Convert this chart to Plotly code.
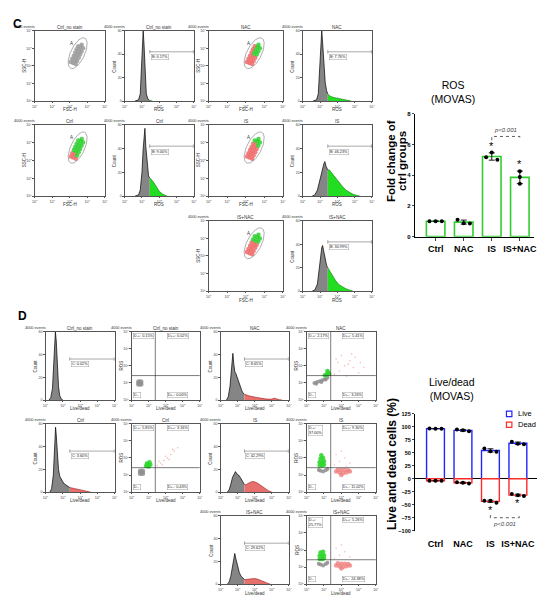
import numpy as np
import plotly.graph_objects as go

W, H = 550, 603
FONT = "Liberation Sans"

# ======================= DATA =======================
groups = ["Ctrl", "NAC", "IS", "IS+NAC"]

# ROS fold change of ctrl groups (replicates)
ros_ctrl = [1.01, 1.00, 1.01]
ros_nac = [1.10, 0.88, 0.86]
ros_is = [5.18, 5.48, 5.01]
ros_isnac = [4.26, 3.89, 3.44]

# Live / dead cells (%) (replicates; dead shown as negative)
live_ctrl = [96.6, 96.4, 96.5]
live_nac = [94.7, 93.3, 91.4]
live_is = [58.4, 53.2, 52.1]
live_isnac = [71.2, 67.4, 66.6]
dead_ctrl = [-3.8, -3.9, -4.0]
dead_nac = [-6.5, -7.8, -9.0]
dead_is = [-42.2, -42.2, -46.0]
dead_isnac = [-29.4, -31.9, -33.2]

p_text = "p<0.001"

# flow cytometry panels
flow_groups = ["Ctrl_no stain", "Ctrl", "NAC", "IS", "IS+NAC"]
ros_gate_pct = ["0.17%", "9.00%", "7.76%", "46.23%", "30.99%"]
ld_gate_pct = ["0.02%", "3.60%", "8.65%", "42.29%", "29.62%"]
quad_ul_pct = ["0.15%", "5.85%", "2.17%", "37.00%", "25.77%"]
quad_ur_pct = ["0.02%", "3.16%", "5.41%", "9.30%", "5.26%"]
quad_lr_pct = ["0.00%", "0.43%", "3.26%", "11.02%", "24.38%"]
log_tick_text = ["10<sup>0</sup>", "10<sup>1</sup>", "10<sup>2</sup>", "10<sup>3</sup>", "10<sup>4</sup>"]
count_ticks = [0, 20, 40, 60]
ros_gate_start = 1.45
ld_gate_start = 1.40
ros_gate_level = 42
ld_gate_level = 36
quad_x = 1.39
quad_y = 1.43

# ROS histograms (log10 intensity, count)
ros_hx_nostain = [0.6, 0.8, 0.9, 0.97, 1.03, 1.07, 1.12, 1.18, 1.25, 1.35, 1.45, 1.6]
ros_hy_nostain = [0, 1, 6, 30, 55, 60, 48, 20, 6, 1.5, 0.5, 0]
ros_hx_ctrl = [0.6, 0.8, 0.9, 1.0, 1.07, 1.12, 1.17, 1.22, 1.3, 1.38, 1.45, 1.55, 1.7, 1.85, 2.0, 2.2, 2.45]
ros_hy_ctrl = [0, 1, 5, 20, 40, 52, 57, 42, 25, 17, 15, 14, 11, 7, 4, 1.5, 0]
ros_hx_nac = [0.6, 0.8, 0.9, 0.98, 1.05, 1.1, 1.15, 1.22, 1.3, 1.38, 1.45, 1.6, 1.8, 2.0, 2.2, 2.4, 2.6, 2.8]
ros_hy_nac = [0, 1, 6, 25, 50, 60, 50, 30, 16, 9, 6, 4, 3, 2.5, 2, 1.2, 0.5, 0]
ros_hx_is = [0.55, 0.7, 0.85, 0.95, 1.05, 1.15, 1.22, 1.28, 1.35, 1.45, 1.55, 1.65, 1.8, 1.95, 2.1, 2.3, 2.5, 2.7, 2.9, 3.1, 3.3]
ros_hy_is = [0, 1, 5, 11, 18, 24, 27, 29, 25, 22, 22, 20, 17, 14, 11, 8, 5, 3, 1.5, 0.7, 0]
ros_hx_isnac = [0.55, 0.7, 0.85, 0.95, 1.03, 1.1, 1.15, 1.22, 1.3, 1.38, 1.45, 1.6, 1.75, 1.9, 2.1, 2.3, 2.5, 2.7, 2.9]
ros_hy_isnac = [0, 1, 6, 18, 30, 37, 39, 34, 27, 22, 20, 16, 12, 9, 5.5, 3.5, 2, 1, 0]

# Live/dead histograms
ld_hx_nostain = [0.2, 0.3, 0.4, 0.47, 0.53, 0.57, 0.62, 0.68, 0.75, 0.82, 0.9, 1.0]
ld_hy_nostain = [0, 2, 10, 35, 55, 60, 52, 30, 12, 4, 1, 0]
ld_hx_ctrl = [0.25, 0.35, 0.45, 0.52, 0.58, 0.62, 0.68, 0.75, 0.82, 0.9, 1.0, 1.1, 1.2, 1.3, 1.4, 1.55, 1.7, 1.85, 2.0, 2.2, 2.4, 2.6]
ld_hy_ctrl = [0, 3, 15, 40, 57, 50, 32, 20, 14, 11, 9, 7, 6, 5, 4, 3.5, 3, 2.5, 2, 1.2, 0.6, 0]
ld_hx_nac = [0.35, 0.45, 0.55, 0.63, 0.68, 0.72, 0.77, 0.83, 0.9, 0.97, 1.05, 1.15, 1.25, 1.32, 1.4, 1.55, 1.7, 1.85, 2.0, 2.2, 2.4, 2.6, 2.8, 3.0, 3.15, 3.3, 3.45, 3.6]
ld_hy_nac = [0, 3, 12, 30, 40, 41, 32, 25, 23, 20, 15, 11, 8, 6, 5, 4, 3.5, 3, 2.5, 2, 1.5, 1, 0.8, 0.8, 1.6, 0.8, 0.3, 0]
ld_hx_is = [0.4, 0.5, 0.6, 0.7, 0.8, 0.87, 0.95, 1.05, 1.15, 1.25, 1.32, 1.4, 1.5, 1.6, 1.7, 1.8, 1.9, 2.0, 2.1, 2.2, 2.35, 2.5, 2.65, 2.8, 3.0]
ld_hy_is = [0, 2, 7, 13, 16, 18, 16, 15, 13, 10, 8, 6.5, 6.5, 7.5, 8.5, 9, 9.3, 9, 8.5, 7.5, 6, 4, 2.5, 1.2, 0]
ld_hx_isnac = [0.4, 0.5, 0.6, 0.7, 0.77, 0.83, 0.9, 1.0, 1.1, 1.2, 1.3, 1.4, 1.55, 1.7, 1.85, 2.0, 2.15, 2.3, 2.5, 2.7, 2.9]
ld_hy_isnac = [0, 2, 7, 16, 24, 27, 22, 15, 10, 7, 5, 4, 4.2, 4.8, 5.2, 5, 4.5, 3.5, 2.2, 1, 0]

# FSC/SSC event cloud (log10) and per-event colour class per group
fsc_cloud = [2.20, 2.28, 2.37, 2.45, 2.53, 2.62, 2.68, 2.06, 2.14, 2.23, 2.31, 2.39, 2.48, 2.34, 2.42, 2.51, 2.59, 2.67, 2.76]
ssc_cloud = [2.16, 2.34, 2.52, 2.70, 2.88, 3.06, 3.20, 2.22, 2.40, 2.58, 2.76, 2.94, 3.12, 2.10, 2.28, 2.46, 2.64, 2.82, 3.00]
cloud_cls_nostain = "kkkkkkkkkkkkkkkkkkk"
cloud_cls_ctrl = "rrgggggrrggggrggggg"
cloud_cls_nac = "rrrggggrrrrrrrrrggg"
cloud_cls_is = "rrrrrggrrrrrgrrrrgg"
cloud_cls_isnac = "rrrrgggrrrrggrrrrgg"
gate_center = (2.45, 2.72)
gate_axes = (0.95, 0.40)
gate_angle_deg = 65

# Live/dead vs ROS event clouds (log10)
d_gray_x_nostain = [0.41, 0.55, 0.41, 0.55, 0.48]
d_gray_y_nostain = [0.93, 0.93, 1.07, 1.07, 1.00]
d_gray_x_ctrl = [0.51, 0.65, 0.51, 0.65, 0.58]
d_gray_y_ctrl = [1.09, 1.09, 1.23, 1.23, 1.16]
d_green_x_ctrl = [0.85, 1.0, 1.1, 0.9, 1.05, 0.95]
d_green_y_ctrl = [1.52, 1.5, 1.6, 1.68, 1.74, 1.62]
d_red_x_ctrl = [1.5, 1.7, 1.9, 2.1, 2.3, 2.5, 2.7, 1.6, 2.0, 2.4, 1.8, 2.2]
d_red_y_ctrl = [1.55, 1.7, 1.85, 2.0, 2.2, 2.4, 2.6, 1.8, 2.1, 2.5, 1.6, 1.9]
d_gray_x_nac = [0.45, 0.6, 0.75, 0.9, 1.05, 1.2, 0.55, 0.85, 1.1]
d_gray_y_nac = [1.0, 1.05, 1.1, 1.15, 1.22, 1.3, 0.95, 1.05, 1.2]
d_green_x_nac = [1.05, 1.15, 1.25, 1.3, 1.2]
d_green_y_nac = [1.45, 1.5, 1.6, 1.52, 1.7]
d_red_x_nac = [1.6, 1.9, 2.2, 2.5, 2.8, 3.1, 1.7, 2.0, 2.4, 2.7, 3.0, 2.3, 1.8, 2.6, 3.3]
d_red_y_nac = [1.5, 1.7, 2.0, 2.3, 2.5, 2.2, 2.4, 2.6, 2.1, 1.9, 1.6, 1.4, 2.2, 2.7, 1.9]
d_gray_x_is = [0.8, 0.95, 1.1, 0.7, 1.2]
d_gray_y_is = [1.25, 1.2, 1.28, 1.3, 1.35]
d_green_x_is = [0.75, 0.9, 1.0, 0.75, 0.9, 1.0, 0.8, 0.95, 0.85]
d_green_y_is = [1.55, 1.55, 1.6, 1.75, 1.75, 1.8, 1.95, 2.0, 2.15]
d_red_x_is = [1.7, 1.9, 2.1, 2.3, 2.5, 1.8, 2.0, 2.2, 2.4, 2.0, 1.6, 1.9, 2.2, 2.5, 1.7, 2.0, 2.3]
d_red_y_is = [1.2, 1.15, 1.1, 1.15, 1.2, 1.3, 1.3, 1.3, 1.28, 1.0, 1.6, 1.8, 2.0, 1.7, 2.2, 2.4, 1.5]
d_gray_x_isnac = [0.8, 0.95, 1.1, 0.7, 1.2]
d_gray_y_isnac = [1.15, 1.1, 1.18, 1.2, 1.25]
d_green_x_isnac = [0.75, 0.9, 1.0, 0.75, 0.9, 1.0, 0.8, 0.95]
d_green_y_isnac = [1.48, 1.48, 1.52, 1.66, 1.66, 1.7, 1.85, 1.9]
d_red_x_isnac = [1.7, 1.9, 2.1, 2.3, 2.5, 1.8, 2.0, 2.2, 2.4, 2.0, 1.6, 1.9, 2.2, 2.5, 1.7, 2.0]
d_red_y_isnac = [1.1, 1.05, 1.0, 1.05, 1.1, 1.22, 1.2, 1.2, 1.18, 0.92, 1.5, 1.7, 1.9, 1.6, 2.1, 2.3]

# ================== LAYOUT (pixel boxes: left, right, top, bottom) ==================
C_SC_BOX = [(32, 103, 28, 99), (32, 103, 123, 195), (208, 283, 28, 99), (208, 283, 123, 195), (208, 283, 220, 291)]
C_HI_BOX = [(123, 193, 28, 99), (123, 193, 123, 195), (303, 373, 28, 99), (303, 373, 123, 195), (303, 373, 220, 291)]
D_HI_BOX = [(43, 113, 332, 401), (43, 113, 425, 494), (220, 289, 332, 401), (220, 289, 425, 494), (220, 289, 518, 587)]
D_SC_BOX = [(130, 199, 332, 401), (130, 199, 425, 494), (307, 377, 332, 401), (307, 377, 425, 494), (307, 377, 518, 587)]

GREEN_FILL, GREEN_LINE = "#22dd22", "#0b7d0b"
RED_FILL, RED_LINE = "#e8706c", "#9a1c1c"
HIST_GRAY = "#858585"

TICK_FS = 3.6
SMALL_FS = 3.8
LAB_FS = 4.5

fig = go.Figure()
axes_layout = {}
ann = []
shp = []
counter = {"n": 0}


def sfx(n):
    return "" if n == 1 else str(n)


def px_x(v):
    return v / W


def px_y(v):
    return 1 - v / H


def flow_axes(box, yrange, ytickvals, yticktext):
    counter["n"] += 1
    n = counter["n"]
    x0, x1, y0, y1 = box
    base = dict(showline=True, mirror=True, linecolor="#555", linewidth=0.6,
                ticks="outside", ticklen=1.5, tickwidth=0.5, tickcolor="#555",
                tickfont=dict(size=TICK_FS, family=FONT, color="#444"),
                showgrid=False, zeroline=False, fixedrange=True)
    axes_layout["xaxis" + sfx(n)] = dict(base, domain=[px_x(x0), px_x(x1)], range=[0, 4],
                                         anchor="y" + sfx(n), tickvals=[0, 1, 2, 3, 4],
                                         ticktext=log_tick_text)
    axes_layout["yaxis" + sfx(n)] = dict(base, domain=[px_y(y1), px_y(y0)], range=yrange,
                                         anchor="x" + sfx(n), tickvals=ytickvals,
                                         ticktext=yticktext)
    return "x" + sfx(n), "y" + sfx(n)


def panel_texts(box, title, xlabel, ylabel):
    x0, x1, y0, y1 = box
    f_small = dict(size=SMALL_FS, family=FONT, color="#333")
    f_lab = dict(size=LAB_FS, family=FONT, color="#333")
    ann.append(dict(x=px_x((x0 + x1) / 2), y=px_y(y0 - 3.5), xref="paper", yref="paper",
                    text=title, showarrow=False, font=f_lab, xanchor="center", yanchor="middle"))
    ann.append(dict(x=px_x(x0 + 2), y=px_y(y0 - 3.5), xref="paper", yref="paper",
                    text="4000 events", showarrow=False, font=f_small, xanchor="right", yanchor="middle"))
    ann.append(dict(x=px_x((x0 + x1) / 2), y=px_y(y1 + 9), xref="paper", yref="paper",
                    text=xlabel, showarrow=False, font=f_lab, xanchor="center", yanchor="middle"))
    ann.append(dict(x=px_x(x0 - 10), y=px_y((y0 + y1) / 2), xref="paper", yref="paper",
                    text=ylabel, showarrow=False, font=f_lab, textangle=-90,
                    xanchor="center", yanchor="middle"))


def draw_hist(xa, ya, xs, ys, gate, fill, line, gate_level, label):
    xs = np.asarray(xs, float)
    ys = np.asarray(ys, float)
    left = xs <= gate
    right = xs >= gate
    fig.add_trace(go.Scatter(x=xs[left], y=ys[left], mode="lines", fill="tozeroy",
                             fillcolor=HIST_GRAY, line=dict(color="black", width=0.7),
                             xaxis=xa, yaxis=ya, hoverinfo="skip", showlegend=False))
    fig.add_trace(go.Scatter(x=xs[right], y=ys[right], mode="lines", fill="tozeroy",
                             fillcolor=fill, line=dict(color=line, width=0.6),
                             xaxis=xa, yaxis=ya, hoverinfo="skip", showlegend=False))
    gl = dict(color="#555", width=0.5)
    shp.append(dict(type="line", xref=xa, yref=ya, x0=gate, x1=3.97, y0=gate_level, y1=gate_level, line=gl))
    for gx in (gate, 3.97):
        shp.append(dict(type="line", xref=xa, yref=ya, x0=gx, x1=gx, y0=gate_level - 1.5,
                        y1=gate_level + 1.5, line=gl))
    ann.append(dict(x=gate + 0.05, y=gate_level - 2, xref=xa, yref=ya, text=label, showarrow=False,
                    font=dict(size=SMALL_FS, family=FONT, color="#222"), xanchor="left", yanchor="top",
                    bordercolor="#888", borderwidth=0.4, borderpad=0.5, bgcolor="white"))


def qlabel(xa, ya, x, y, text, xanchor, yanchor):
    ann.append(dict(x=x, y=y, xref=xa, yref=ya, text=text, showarrow=False, align="left",
                    font=dict(size=SMALL_FS, family=FONT, color="#222"), xanchor=xanchor, yanchor=yanchor,
                    bordercolor="#888", borderwidth=0.4, borderpad=0.4, bgcolor="white"))


def pts(xa, ya, xs, ys, color, size, opacity):
    fig.add_trace(go.Scatter(x=xs, y=ys, mode="markers",
                             marker=dict(color=color, size=size, opacity=opacity, line=dict(width=0)),
                             xaxis=xa, yaxis=ya, hoverinfo="skip", showlegend=False))


# ------------------- Panel C flow: FSC/SSC scatter + ROS histograms -------------------
ros_hx = [ros_hx_nostain, ros_hx_ctrl, ros_hx_nac, ros_hx_is, ros_hx_isnac]
ros_hy = [ros_hy_nostain, ros_hy_ctrl, ros_hy_nac, ros_hy_is, ros_hy_isnac]
cloud_cls = [cloud_cls_nostain, cloud_cls_ctrl, cloud_cls_nac, cloud_cls_is, cloud_cls_isnac]

t = np.linspace(0, 2 * np.pi, 80)
th = np.deg2rad(gate_angle_deg)
ex = gate_center[0] + gate_axes[0] * np.cos(t) * np.cos(th) - gate_axes[1] * np.sin(t) * np.sin(th)
ey = gate_center[1] + gate_axes[0] * np.cos(t) * np.sin(th) + gate_axes[1] * np.sin(t) * np.cos(th)

for i, g in enumerate(flow_groups):
    xa, ya = flow_axes(C_SC_BOX[i], [0, 4], [0, 1, 2, 3, 4], log_tick_text)
    panel_texts(C_SC_BOX[i], g, "FSC-H", "SSC-H")
    cls = cloud_cls[i]
    for key, col in (("k", "#9a9a9a"), ("r", "#f06a6a"), ("g", "#2fd02f")):
        sx = [fsc_cloud[j] for j in range(len(cls)) if cls[j] == key]
        sy = [ssc_cloud[j] for j in range(len(cls)) if cls[j] == key]
        if sx:
            pts(xa, ya, sx, sy, col, 4.5, 0.85)
    fig.add_trace(go.Scatter(x=ex, y=ey, mode="lines", line=dict(color="#777", width=0.6),
                             xaxis=xa, yaxis=ya, hoverinfo="skip", showlegend=False))
    ann.append(dict(x=2.12, y=3.3, xref=xa, yref=ya, text="A", showarrow=False,
                    font=dict(size=LAB_FS, family=FONT, color="#333")))

    xa, ya = flow_axes(C_HI_BOX[i], [0, 60], count_ticks, [str(v) for v in count_ticks])
    panel_texts(C_HI_BOX[i], g, "ROS", "Count")
    draw_hist(xa, ya, ros_hx[i], ros_hy[i], ros_gate_start, GREEN_FILL, GREEN_LINE,
              ros_gate_level, "B: " + ros_gate_pct[i])

# ------------------- Panel D flow: live/dead histograms + ROS vs live/dead -------------------
ld_hx = [ld_hx_nostain, ld_hx_ctrl, ld_hx_nac, ld_hx_is, ld_hx_isnac]
ld_hy = [ld_hy_nostain, ld_hy_ctrl, ld_hy_nac, ld_hy_is, ld_hy_isnac]
d_gray = [(d_gray_x_nostain, d_gray_y_nostain), (d_gray_x_ctrl, d_gray_y_ctrl), (d_gray_x_nac, d_gray_y_nac),
          (d_gray_x_is, d_gray_y_is), (d_gray_x_isnac, d_gray_y_isnac)]
d_green = [([], []), (d_green_x_ctrl, d_green_y_ctrl), (d_green_x_nac, d_green_y_nac),
           (d_green_x_is, d_green_y_is), (d_green_x_isnac, d_green_y_isnac)]
d_red = [([], []), (d_red_x_ctrl, d_red_y_ctrl), (d_red_x_nac, d_red_y_nac),
         (d_red_x_is, d_red_y_is), (d_red_x_isnac, d_red_y_isnac)]

for i, g in enumerate(flow_groups):
    xa, ya = flow_axes(D_HI_BOX[i], [0, 60], count_ticks, [str(v) for v in count_ticks])
    panel_texts(D_HI_BOX[i], g, "Live/dead", "Count")
    draw_hist(xa, ya, ld_hx[i], ld_hy[i], ld_gate_start, RED_FILL, RED_LINE,
              ld_gate_level, "C: " + ld_gate_pct[i])

    xa, ya = flow_axes(D_SC_BOX[i], [0, 4], [0, 1, 2, 3, 4], log_tick_text)
    panel_texts(D_SC_BOX[i], g, "Live/dead", "ROS")
    if d_red[i][0]:
        big = i >= 3
        pts(xa, ya, d_red[i][0][:10] if big else d_red[i][0], d_red[i][1][:10] if big else d_red[i][1],
            "#f08080" if big else "#f6a8a8", 4.5 if big else 1.6, 0.8)
        if big:
            pts(xa, ya, d_red[i][0][10:], d_red[i][1][10:], "#f6b0b0", 1.6, 0.8)
    pts(xa, ya, d_gray[i][0], d_gray[i][1], "#8f8f8f", 5 if i < 2 else 4, 0.85)
    if d_green[i][0]:
        pts(xa, ya, d_green[i][0], d_green[i][1], "#2fd62f", 4.5, 0.9)
    ql = dict(color="#222", width=0.6)
    shp.append(dict(type="line", xref=xa, yref=ya, x0=quad_x, x1=quad_x, y0=0, y1=4, line=ql))
    shp.append(dict(type="line", xref=xa, yref=ya, x0=0, x1=4, y0=quad_y, y1=quad_y, line=ql))
    ul = "D-+:<br>" + quad_ul_pct[i] if i >= 3 else "D-+: " + quad_ul_pct[i]
    qlabel(xa, ya, 0.06, 3.92, ul, "left", "top")
    qlabel(xa, ya, 2.05, 3.92, "D++: " + quad_ur_pct[i], "left", "top")
    qlabel(xa, ya, 2.05, 0.1, "D+-: " + quad_lr_pct[i], "left", "bottom")
    qlabel(xa, ya, 0.06, 0.1, "D--", "left", "bottom")

# ------------------- ROS bar chart -------------------
ros_sets = [ros_ctrl, ros_nac, ros_is, ros_isnac]
ros_mean = [float(np.mean(v)) for v in ros_sets]
ros_sd = [float(np.std(v, ddof=1)) for v in ros_sets]
ros_offsets = [[-0.22, 0, 0.22], [-0.22, 0, 0.22], [-0.2, 0, 0.2], [0, 0, 0]]

counter["n"] += 1
nc = counter["n"]
xc, yc = "x" + sfx(nc), "y" + sfx(nc)
bold_tick = dict(family=FONT, color="black", weight="bold")
axes_layout["xaxis" + sfx(nc)] = dict(domain=[px_x(417), px_x(537)], range=[-0.72, 3.51], anchor=yc,
                                      showline=True, linecolor="black", linewidth=1.2, ticks="outside",
                                      ticklen=3, tickwidth=1, tickvals=[0, 1, 2, 3], ticktext=groups,
                                      tickfont=dict(bold_tick, size=9), showgrid=False, zeroline=False)
axes_layout["yaxis" + sfx(nc)] = dict(domain=[px_y(236), px_y(112)], range=[0, 8], anchor=xc,
                                      showline=True, linecolor="black", linewidth=1.2, ticks="outside",
                                      ticklen=2.5, tickwidth=1, tickvals=[0, 2, 4, 6, 8],
                                      tickfont=dict(bold_tick, size=6), showgrid=False, zeroline=False)
fig.add_trace(go.Bar(x=list(range(4)), y=ros_mean, width=0.66,
                     marker=dict(color="white", line=dict(color="#33cc33", width=1.6)),
                     error_y=dict(type="data", array=ros_sd, color="black", thickness=0.9, width=3),
                     xaxis=xc, yaxis=yc, showlegend=False, hoverinfo="skip"))
for i, vals in enumerate(ros_sets):
    pts(xc, yc, [i + o for o in ros_offsets[i]], vals, "black", 4, 1)
for gi in (2, 3):
    ann.append(dict(x=gi, y=max(ros_sets[gi]) + 0.45, xref=xc, yref=yc, text="*", showarrow=False,
                    font=dict(size=11, family=FONT, color="black"), yanchor="middle"))
br_y = max(ros_is) + 1.05
shp.append(dict(type="path", xref=xc, yref=yc,
                path=f"M 2,{br_y - 0.25} L 2,{br_y} L 3,{br_y} L 3,{br_y - 0.25}",
                line=dict(color="#333", width=0.8, dash="dot")))
ann.append(dict(x=2.5, y=br_y + 0.4, xref=xc, yref=yc, text="<i>" + p_text + "</i>", showarrow=False,
                font=dict(size=6, family=FONT, color="#444")))

# ------------------- Live/dead bar chart -------------------
live_sets = [live_ctrl, live_nac, live_is, live_isnac]
dead_sets = [dead_ctrl, dead_nac, dead_is, dead_isnac]
live_mean = [float(np.mean(v)) for v in live_sets]
live_sd = [float(np.std(v, ddof=1)) for v in live_sets]
dead_mean = [float(np.mean(v)) for v in dead_sets]
dead_sd = [float(np.std(v, ddof=1)) for v in dead_sets]
ld_offsets = [-0.22, 0, 0.22]

counter["n"] += 1
nd = counter["n"]
xd, yd = "x" + sfx(nd), "y" + sfx(nd)
axes_layout["xaxis" + sfx(nd)] = dict(domain=[px_x(417), px_x(540)], range=[-0.73, 3.7], anchor=yd,
                                      showline=False, ticks="outside", ticklen=5, tickcolor="rgba(0,0,0,0)",
                                      tickvals=[0, 1, 2, 3], ticktext=groups,
                                      tickfont=dict(bold_tick, size=9), showgrid=False, zeroline=False)
axes_layout["yaxis" + sfx(nd)] = dict(domain=[px_y(533), px_y(415)], range=[-100, 125], anchor=xd,
                                      showline=True, linecolor="black", linewidth=1.2, ticks="outside",
                                      ticklen=2.5, tickwidth=1, tickvals=list(range(-100, 126, 25)),
                                      tickfont=dict(bold_tick, size=5.5), showgrid=False,
                                      zeroline=True, zerolinecolor="black", zerolinewidth=1.2)
BLUE, RED = "#2323ff", "#ff2a2a"
fig.add_trace(go.Bar(x=list(range(4)), y=live_mean, width=0.65, name="Live",
                     marker=dict(color="white", line=dict(color=BLUE, width=1.4)),
                     error_y=dict(type="data", array=live_sd, color="black", thickness=0.8, width=3),
                     xaxis=xd, yaxis=yd, showlegend=False, hoverinfo="skip"))
fig.add_trace(go.Bar(x=list(range(4)), y=dead_mean, width=0.65, name="Dead",
                     marker=dict(color="white", line=dict(color=RED, width=1.4)),
                     error_y=dict(type="data", array=dead_sd, color="black", thickness=0.8, width=3),
                     xaxis=xd, yaxis=yd, showlegend=False, hoverinfo="skip"))
for i in range(4):
    pts(xd, yd, [i + o for o in ld_offsets], live_sets[i], "black", 4, 1)
    pts(xd, yd, [i + o for o in ld_offsets], dead_sets[i], "black", 4, 1)
for gi in (2, 3):
    ann.append(dict(x=gi, y=min(dead_sets[gi]) - 14, xref=xd, yref=yd, text="*", showarrow=False,
                    font=dict(size=11, family=FONT, color="black"), yanchor="middle"))
bry = min(dead_is) - 29
shp.append(dict(type="path", xref=xd, yref=yd,
                path=f"M 2,{bry + 5} L 2,{bry} L 3.05,{bry} L 3.05,{bry + 5}",
                line=dict(color="#333", width=0.8, dash="dot")))
ann.append(dict(x=2.5, y=bry - 13, xref=xd, yref=yd, text="<i>" + p_text + "</i>", showarrow=False,
                font=dict(size=6, family=FONT, color="#444")))

# legend (drawn manually)
for (name, col, cy) in (("Live", BLUE, 415), ("Dead", RED, 426)):
    shp.append(dict(type="rect", xref="paper", yref="paper", x0=px_x(509), x1=px_x(514.5),
                    y0=px_y(cy + 2.7), y1=px_y(cy - 2.7), line=dict(color=col, width=1.2),
                    fillcolor="white"))
    ann.append(dict(x=px_x(518.5), y=px_y(cy), xref="paper", yref="paper", text=name, showarrow=False,
                    font=dict(size=7.5, family=FONT, color="black"), xanchor="left", yanchor="middle"))

# titles and axis titles
title_font = dict(size=10.5, family=FONT, color="black")
ann.append(dict(x=px_x(479), y=px_y(90), xref="paper", yref="paper", text="ROS<br>(MOVAS)",
                showarrow=False, font=title_font, yanchor="middle"))
ann.append(dict(x=px_x(479), y=px_y(390), xref="paper", yref="paper", text="Live/dead<br>(MOVAS)",
                showarrow=False, font=title_font, yanchor="middle"))
ax_title_font = dict(size=11.5, family=FONT, color="black", weight="bold")
ann.append(dict(x=px_x(393), y=px_y(160), xref="paper", yref="paper", text="Fold change of",
                showarrow=False, font=ax_title_font, textangle=-90, xanchor="center", yanchor="middle"))
ann.append(dict(x=px_x(404), y=px_y(160), xref="paper", yref="paper", text="ctrl groups",
                showarrow=False, font=ax_title_font, textangle=-90, xanchor="center", yanchor="middle"))
ann.append(dict(x=px_x(394), y=px_y(466), xref="paper", yref="paper", text="Live and dead cells (%)",
                showarrow=False, font=dict(ax_title_font, size=12), textangle=-90,
                xanchor="center", yanchor="middle"))

# panel letters
letter_font = dict(size=12, family=FONT, color="black", weight="bold")
ann.append(dict(x=px_x(8), y=px_y(12), xref="paper", yref="paper", text="C", showarrow=False, font=letter_font))
ann.append(dict(x=px_x(13), y=px_y(316), xref="paper", yref="paper", text="D", showarrow=False, font=letter_font))

fig.update_layout(width=W, height=H, margin=dict(l=0, r=0, t=0, b=0, pad=0),
                  paper_bgcolor="white", plot_bgcolor="white", barmode="overlay",
                  showlegend=False, annotations=ann, shapes=shp, **axes_layout)
fig.write_html("out.html", config={"displayModeBar": False},
               post_script="document.body.style.margin='0px';document.body.style.padding='0px';"
                           "document.body.style.overflow='hidden';")
